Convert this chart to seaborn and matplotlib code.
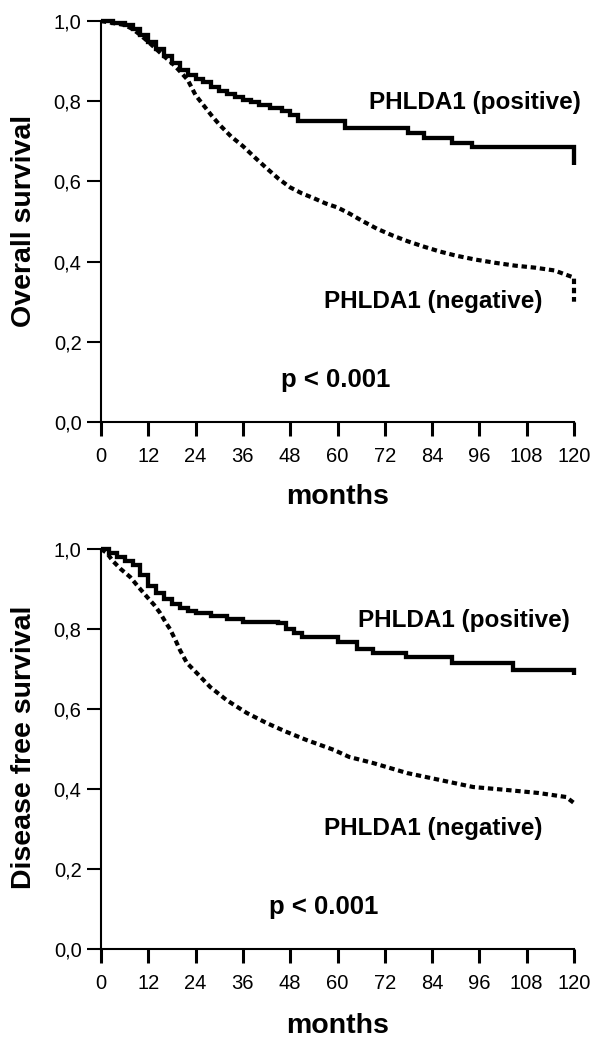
import numpy as np
import pandas as pd
import matplotlib
matplotlib.use("Agg")
import matplotlib.pyplot as plt
import seaborn as sns

# ---------------- data ----------------
x_ticks = [0, 12, 24, 36, 48, 60, 72, 84, 96, 108, 120]
x_tick_labels = ["0", "12", "24", "36", "48", "60", "72", "84", "96", "108", "120"]
y_ticks = [0.0, 0.2, 0.4, 0.6, 0.8, 1.0]
y_tick_labels = ["0,0", "0,2", "0,4", "0,6", "0,8", "1,0"]

# Overall survival, PHLDA1 positive (Kaplan-Meier steps)
os_pos_t = [0, 3, 6, 8, 10, 12, 14, 16, 18, 20, 22, 24, 26, 28, 30, 32, 34, 36, 38, 40,
            43, 46, 48, 50, 62, 78, 82, 89, 94, 120]
os_pos_s = [1.0, .995, .99, .98, .965, .948, .93, .912, .895, .878, .865, .855, .848, .835,
            .825, .818, .81, .803, .798, .79, .782, .775, .765, .75, .733, .72, .708, .696,
            .686, .64]
# Overall survival, PHLDA1 negative
os_neg_t = [0, 3, 6, 8, 10, 12, 14, 16, 18, 20, 22, 24, 26, 28, 30, 33, 36, 39, 42, 45,
            48, 51, 54, 57, 60, 63, 66, 70, 74, 78, 82, 86, 90, 95, 100, 105, 110, 115,
            120, 120]
os_neg_s = [1.0, .995, .99, .98, .965, .948, .93, .912, .895, .875, .853, .815, .79, .765,
            .742, .712, .688, .66, .633, .607, .585, .57, .558, .545, .535, .52, .503, .482,
            .465, .45, .437, .425, .415, .405, .397, .39, .385, .378, .36, .30]
# Disease free survival, PHLDA1 positive
dfs_pos_t = [0, 2, 4, 6, 8, 10, 12, 14, 16, 18, 20, 22, 24, 28, 32, 36, 45, 47, 49, 51,
             60, 65, 69, 77.5, 89, 104.5, 120]
dfs_pos_s = [1.0, .99, .98, .97, .96, .935, .908, .89, .876, .862, .852, .845, .84, .832,
             .825, .818, .815, .80, .79, .78, .768, .75, .74, .73, .714, .698, .685]
# Disease free survival, PHLDA1 negative
dfs_neg_t = [0, 1.5, 3, 5, 7.4, 9.5, 11.7, 13.5, 15, 16.5, 17.5, 19, 20, 21.8, 24.3, 27.7,
             31.9, 37, 42, 47, 52, 59, 63, 69, 77.6, 86, 94.4, 103, 111, 118, 120]
dfs_neg_s = [1.0, .99, .97, .95, .93, .905, .88, .86, .84, .815, .80, .77, .748, .715, .69,
             .655, .622, .59, .565, .543, .523, .498, .48, .465, .44, .4225, .405, .3975,
             .39, .38, .365]

y_labels = ["Overall survival", "Disease free survival"]
x_label = "months"
pos_label = "PHLDA1 (positive)"
neg_label = "PHLDA1 (negative)"
p_text = "p < 0.001"

# ---------------- style ----------------
sns.set_theme(style="ticks")
plt.rcParams['font.family'] = ['Liberation Sans', 'DejaVu Sans']
plt.rcParams['text.color'] = 'black'
plt.rcParams['axes.labelcolor'] = 'black'
plt.rcParams['xtick.color'] = 'black'
plt.rcParams['ytick.color'] = 'black'

W, H = 592, 1037
fig = plt.figure(figsize=(W / 100, H / 100), dpi=100)
fig.patch.set_facecolor("white")


def fx(x):
    return x / W


def fy(y):
    return 1 - y / H


panels = [
    dict(top=21, bottom=422, pos=(os_pos_t, os_pos_s), neg=(os_neg_t, os_neg_s),
         ylab=y_labels[0], ylab_y=221, pos_xy=(475, 103), neg_xy=(433, 302),
         p_xy=(336, 380), months_y=497),
    dict(top=549, bottom=949, pos=(dfs_pos_t, dfs_pos_s), neg=(dfs_neg_t, dfs_neg_s),
         ylab=y_labels[1], ylab_y=747, pos_xy=(464, 620), neg_xy=(433, 828),
         p_xy=(324, 907), months_y=1026),
]

left_px, right_px = 101, 574
tick_font = ['Liberation Sans Narrow', 'Liberation Sans', 'DejaVu Sans']
bold_font = ['Liberation Sans', 'DejaVu Sans']

for pnl in panels:
    ax = fig.add_axes([fx(left_px), fy(pnl["bottom"]),
                       fx(right_px) - fx(left_px), fy(pnl["top"]) - fy(pnl["bottom"])])
    ax.set_facecolor("white")
    pt, ps = pnl["pos"]
    nt, ns = pnl["neg"]
    df_pos = pd.DataFrame({"t": pt, "s": ps})
    df_neg = pd.DataFrame({"t": nt, "s": ns})
    sns.lineplot(data=df_pos, x="t", y="s", ax=ax, color="black", linewidth=3.1,
                 drawstyle="steps-post", estimator=None, sort=False, clip_on=False,
                 solid_joinstyle="miter", solid_capstyle="butt")
    sns.lineplot(data=df_neg, x="t", y="s", ax=ax, color="black", linewidth=3.0,
                 linestyle=(0, (1.3, 0.9)), estimator=None, sort=False, clip_on=False,
                 dash_capstyle="butt")
    ax.set_xlim(0, 120)
    ax.set_ylim(0, 1.0)
    ax.set_xticks(x_ticks)
    ax.set_xticklabels(x_tick_labels, family=tick_font, fontsize=14.5, color="black")
    ax.set_yticks(y_ticks)
    ax.set_yticklabels(y_tick_labels, family=tick_font, fontsize=14.5, color="black")
    ax.tick_params(axis="x", direction="out", length=10, width=2.2, pad=8, colors="black")
    ax.tick_params(axis="y", direction="out", length=10, width=1.5, pad=4, colors="black")
    for sp in ["top", "right"]:
        ax.spines[sp].set_visible(False)
    for sp in ["left", "bottom"]:
        ax.spines[sp].set_linewidth(1.5)
        ax.spines[sp].set_color("black")
    ax.set_xlabel("")
    ax.set_ylabel("")
    ax.grid(False)

    fig.text(fx(24), fy(pnl["ylab_y"]), pnl["ylab"], rotation=90, ha="center",
             va="center", fontsize=20.5, fontweight="bold", family=bold_font,
             color="black")
    fig.text(fx(338), fy(pnl["months_y"]), x_label, ha="center", va="center",
             fontsize=20.5, fontweight="bold", family=bold_font, color="black")
    fig.text(fx(pnl["pos_xy"][0]), fy(pnl["pos_xy"][1]), pos_label, ha="center",
             va="center", fontsize=17.5, fontweight="bold", family=bold_font,
             color="black")
    fig.text(fx(pnl["neg_xy"][0]), fy(pnl["neg_xy"][1]), neg_label, ha="center",
             va="center", fontsize=17.5, fontweight="bold", family=bold_font,
             color="black")
    fig.text(fx(pnl["p_xy"][0]), fy(pnl["p_xy"][1]), p_text, ha="center",
             va="center", fontsize=18.5, fontweight="bold", family=bold_font,
             color="black")

fig.savefig("out.png", dpi=100, facecolor="white")
